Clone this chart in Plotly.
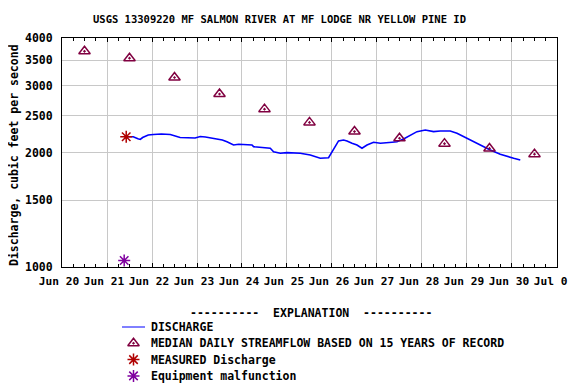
import plotly.graph_objects as go

# The page body adds an 8px margin, so the figure is sized and laid out to fill
# the 576x384 window exactly from that offset.
OFF = 8
W, H = 576 - OFF, 384 - OFF
PL, PR, PT, PB = 62, 557, 38, 267  # plot frame in window pixels


def xp(px):
    return (px - OFF) / W


def yp(py):
    return 1 - (py - OFF) / H


title_text = "USGS 13309220 MF SALMON RIVER AT MF LODGE NR YELLOW PINE ID"
y_title = "Discharge, cubic feet per second"

discharge_time = [
    "2023-06-21 10:15", "2023-06-21 14:00", "2023-06-21 16:30", "2023-06-21 17:45",
    "2023-06-21 19:00", "2023-06-21 22:00", "2023-06-22 00:45", "2023-06-22 05:00",
    "2023-06-22 09:45", "2023-06-22 15:00", "2023-06-22 23:00", "2023-06-23 01:45",
    "2023-06-23 04:30", "2023-06-23 09:45", "2023-06-23 13:30", "2023-06-23 16:00",
    "2023-06-23 19:30", "2023-06-23 22:15", "2023-06-24 05:20", "2023-06-24 06:10",
    "2023-06-24 15:05", "2023-06-24 16:50", "2023-06-24 20:25", "2023-06-25 00:00",
    "2023-06-25 07:05", "2023-06-25 12:25", "2023-06-25 17:45", "2023-06-25 22:10",
    "2023-06-25 23:05", "2023-06-26 00:55", "2023-06-26 03:30", "2023-06-26 06:10",
    "2023-06-26 08:00", "2023-06-26 10:40", "2023-06-26 13:20", "2023-06-26 16:00",
    "2023-06-26 18:40", "2023-06-26 22:10", "2023-06-27 01:50", "2023-06-27 08:00",
    "2023-06-27 10:40", "2023-06-27 14:10", "2023-06-27 17:45", "2023-06-27 21:20",
    "2023-06-28 01:45", "2023-06-28 06:10", "2023-06-28 09:45", "2023-06-28 15:05",
    "2023-06-28 18:40", "2023-06-28 22:10", "2023-06-29 01:45", "2023-06-29 05:20",
    "2023-06-29 08:55", "2023-06-29 12:25", "2023-06-29 17:45", "2023-06-29 21:20",
    "2023-06-30 00:55", "2023-06-30 04:25",
]
discharge_cfs = [
    2200, 2200, 2175, 2165,
    2190, 2223, 2230, 2236,
    2230, 2190, 2184, 2203,
    2197, 2177, 2157, 2135,
    2093, 2102, 2093, 2072,
    2052, 2010, 1991, 1998,
    1991, 1970, 1931, 1938,
    1970, 2052, 2145, 2157,
    2145, 2115, 2093, 2052,
    2093, 2128, 2115, 2128,
    2135, 2170, 2223, 2269,
    2292, 2269, 2279, 2279,
    2247, 2201, 2157, 2115,
    2072, 2031, 1978, 1950,
    1931, 1911,
]

median_time = [
    "2023-06-20 12:00", "2023-06-21 12:00", "2023-06-22 12:00", "2023-06-23 12:00",
    "2023-06-24 12:00", "2023-06-25 12:00", "2023-06-26 12:00", "2023-06-27 12:00",
    "2023-06-28 12:00", "2023-06-29 12:00", "2023-06-30 12:00",
]
median_cfs = [3690, 3540, 3150, 2850, 2600, 2400, 2270, 2180, 2110, 2050, 1980]

measured_time = ["2023-06-21 10:15"]
measured_cfs = [2200]

malfunction_time = ["2023-06-21 09:10"]
malfunction_cfs = [1040]

y_ticks = [1000, 1500, 2000, 2500, 3000, 3500, 4000]
x_range = ["2023-06-20 00:00", "2023-07-01 00:00:30"]
x_tick0 = "2023-06-20 00:00"

legend_header = "----------\u00a0\u00a0EXPLANATION\u00a0\u00a0----------"
legend_labels = [
    "DISCHARGE",
    "MEDIAN DAILY STREAMFLOW BASED ON 15 YEARS OF RECORD",
    "MEASURED Discharge",
    "Equipment malfunction",
]

BLUE = "#0000ff"
MAROON = "#800040"
RED = "#b00000"
PURPLE = "#8000a0"
GRID = "#c8c8c8"

FONT = dict(family="DejaVu Sans Mono", size=11.5, color="black", weight="bold")
XFONT = dict(family="DejaVu Sans Mono", size=11.2, color="black", weight="bold")

fig = go.Figure()

# main data
fig.add_trace(go.Scatter(x=discharge_time, y=discharge_cfs, mode="lines",
                         line=dict(color=BLUE, width=1.6), xaxis="x", yaxis="y",
                         showlegend=False))
fig.add_trace(go.Scatter(x=median_time, y=median_cfs, mode="markers",
                         marker=dict(symbol="triangle-up-open-dot", size=10,
                                     color=MAROON, line=dict(width=1.5, color=MAROON)),
                         xaxis="x", yaxis="y", showlegend=False))
fig.add_trace(go.Scatter(x=measured_time, y=measured_cfs, mode="markers",
                         marker=dict(symbol="asterisk-open", size=10,
                                     color=RED, line=dict(width=1.5, color=RED)),
                         xaxis="x", yaxis="y", showlegend=False))
fig.add_trace(go.Scatter(x=malfunction_time, y=malfunction_cfs, mode="markers",
                         marker=dict(symbol="asterisk-open", size=10,
                                     color=PURPLE, line=dict(width=1.5, color=PURPLE)),
                         xaxis="x", yaxis="y", showlegend=False))

# explanation block drawn on its own small axes
fig.add_trace(go.Scatter(x=[-1, 1], y=[legend_labels[0]] * 2, mode="lines",
                         line=dict(color=BLUE, width=1), xaxis="x2", yaxis="y2",
                         showlegend=False))
fig.add_trace(go.Scatter(x=[0], y=[legend_labels[1]], mode="markers",
                         marker=dict(symbol="triangle-up-open-dot", size=10,
                                     color=MAROON, line=dict(width=1.5, color=MAROON)),
                         xaxis="x2", yaxis="y2", showlegend=False))
fig.add_trace(go.Scatter(x=[0], y=[legend_labels[2]], mode="markers",
                         marker=dict(symbol="asterisk-open", size=10,
                                     color=RED, line=dict(width=1.5, color=RED)),
                         xaxis="x2", yaxis="y2", showlegend=False))
fig.add_trace(go.Scatter(x=[0], y=[legend_labels[3]], mode="markers",
                         marker=dict(symbol="asterisk-open", size=10,
                                     color=PURPLE, line=dict(width=1.5, color=PURPLE)),
                         xaxis="x2", yaxis="y2", showlegend=False))

row_h = 16.3
leg_top = 327 - row_h / 2
leg_bottom = min(leg_top + 4 * row_h, OFF + H)
leg_n = (leg_bottom - leg_top) / row_h

fig.update_layout(
    width=W, height=H,
    margin=dict(l=0, r=0, t=0, b=0, autoexpand=False),
    paper_bgcolor="white", plot_bgcolor="white",
    font=FONT,
    showlegend=False,
    xaxis=dict(
        domain=[xp(PL), xp(PR)], anchor="y", type="date", range=x_range,
        dtick=86400000, tick0=x_tick0, tickformat="%b %d",
        showgrid=True, gridcolor=GRID, gridwidth=1,
        showline=True, linecolor="black", linewidth=1, mirror="ticks",
        ticks="inside", ticklen=4, tickcolor="black",
        minor=dict(dtick=6 * 3600000, ticks="inside", ticklen=3, tickcolor="black", showgrid=False),
        tickfont=XFONT, ticklabelstandoff=4, ticklabelshift=-3, ticklabeloverflow="allow",
        zeroline=False, automargin=False,
    ),
    yaxis=dict(
        domain=[yp(PB), yp(PT)], anchor="x", type="log",
        range=[3, 3.6020600], tickvals=y_ticks, ticktext=[str(v) for v in y_ticks],
        showgrid=True, gridcolor=GRID, gridwidth=1,
        showline=True, linecolor="black", linewidth=1, mirror=True,
        ticks="", tickfont=FONT, ticklabelstandoff=6, zeroline=False, automargin=False,
    ),
    xaxis2=dict(
        domain=[xp(122), xp(145)], anchor="y2", range=[-1, 1], visible=False,
        automargin=False,
    ),
    yaxis2=dict(
        domain=[yp(leg_bottom), yp(leg_top)], anchor="x2",
        type="category", categoryorder="array", categoryarray=legend_labels,
        range=[-0.5 + leg_n, -0.5], side="right", showgrid=False, zeroline=False,
        showline=False, ticks="", tickfont=FONT, ticklabelstandoff=5, automargin=False,
    ),
    annotations=[
        dict(text=title_text, x=xp(279), y=yp(19), xref="paper", yref="paper",
             xanchor="center", yanchor="middle", showarrow=False,
             font=dict(family="DejaVu Sans Mono", size=10.5, color="black", weight="bold")),
        dict(text=y_title, x=xp(14), y=yp(155), xref="paper", yref="paper",
             xanchor="center", yanchor="middle", textangle=-90, showarrow=False,
             font=FONT),
        dict(text=legend_header, x=xp(311), y=yp(313), xref="paper", yref="paper",
             xanchor="center", yanchor="middle", showarrow=False, font=FONT),
    ],
)

fig.write_html("out.html")
